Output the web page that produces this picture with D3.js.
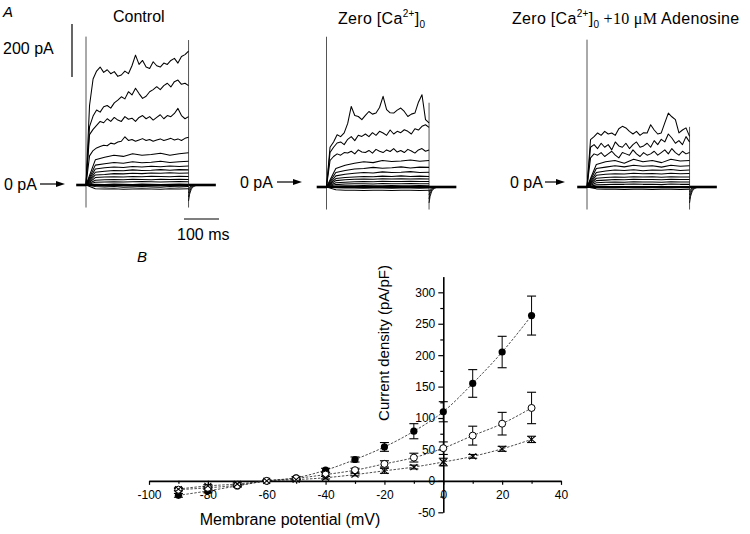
<!DOCTYPE html>
<html><head><meta charset="utf-8">
<script src="https://cdn.jsdelivr.net/npm/d3@7"></script>
<style>body{margin:0;background:#fff} svg{display:block} text{font-family:"Liberation Sans",Arial,sans-serif;fill:#000}</style>
</head><body><svg id="c" width="750" height="534"></svg>
<script>
// ---------------- Panel B data (I-V relation) ----------------
const voltages = [-90,-80,-70,-60,-50,-40,-30,-20,-10,0,10,20,30];
const controlDensity = [-23,-16,-8,0,5,17,34,54,79,110,155,205,263];
const controlErr     = [3,3,2,1,2,3,4,7,12,16,22,25,31];
const zeroCaDensity  = [-14,-11,-7,0,4,10,17,27,37,52,72,91,116];
const zeroCaErr      = [2,2,2,1,2,3,3,5,7,10,15,18,25];
const adenoDensity   = [-13,-8,-5,0,2,5,10,16,22,30,39,51,66];
const adenoErr       = [2,2,2,1,1,2,2,4,3,6,3,4,5];
const xTicksMajor = [-100,-80,-60,-40,-20,0,20,40];
const xTicksMinor = [-90,-70,-50,-30,-10,10,30];
const yTicksMajor = [-50,0,50,100,150,200,250,300];
const yTicksMinor = [-25,25,75,125,175,225,275];

// ---------------- Panel A data (current traces, pA) ----------------
const stepMs = 293;          // duration of voltage step
const preMs = 28, postMs = 78;
const tailTimes = [0,3,8,15,25];   // ms after step end
const tailValues = [[-60,-35,-15,-5,0],[-45,-25,-10,-3,0],[-30,-16,-6,-2,0],[-18,-9,-3,0,0]];
const scaleBarPA = 200, scaleBarMs = 100;

const controlTraces = [
 [0,300,400,430,445,425,435,420,428,410,415,430,420,450,490,455,470,445,440,465,450,445,460,455,470,478,460,485,492,505],
 [0,220,260,283,275,295,300,290,310,320,333,325,352,340,365,345,327,335,352,360,371,360,375,384,370,390,396,380,384,375],
 [0,190,210,225,240,235,250,240,255,245,240,258,248,252,240,255,262,250,258,245,255,265,250,262,258,270,289,262,250,258],
 [0,110,130,140,145,150,148,158,155,162,165,182,168,172,165,170,175,168,172,165,170,174,168,172,176,170,174,168,176,180],
 [0,95,105,112,108,118,112,115,120,112,118,122],
 [0,75,80,85,82,88,84,86,90,85,88,90],
 [0,60,65,68,66,70,68,71,69,72,70,72],
 [0,48,52,55,54,57,55,56,58,56,58,57],
 [0,38,40,43,42,44,43,45,44,46,44,45],
 [0,28,30,31,30,32,31,33,32,31,33,32],
 [0,18,20,21,20,22,21,20,22,21,22,21],
 [0,10,11,12,11,12,13,12,11,12,13,12],
 [0,3,2,4,3,2,4,3,2,3,4,3],
 [0,-6,-7,-6,-8,-7,-6,-7,-8,-6,-7,-6],
 [0,-14,-15,-14,-16,-15,-14,-15,-16,-14,-15,-14]
];
const zeroCaTraces = [
 [0,150,170,197,190,204,240,304,270,266,254,270,285,275,279,300,342,292,280,279,290,298,285,266,275,279,320,348,254,242],
 [0,130,150,166,170,160,180,190,175,195,191,200,190,205,195,210,204,195,215,200,210,205,216,210,200,220,215,229,235,225],
 [0,100,115,125,120,130,128,135,125,140,132,130,138,128,142,135,130,140,134,145,132,138,130,142,136,128,140,145,135,140],
 [0,70,82,90,95,92,100,96,98,102,97,100],
 [0,55,62,68,70,74,71,73,76,72,75,74],
 [0,42,48,52,55,53,57,55,56,58,55,56],
 [0,32,36,38,40,39,41,40,42,40,41,40],
 [0,24,27,29,30,29,31,30,31,30,31,30],
 [0,16,18,20,21,20,22,21,21,22,21,21],
 [0,9,11,12,12,11,13,12,12,13,12,12],
 [0,4,5,5,6,5,5,6,5,5,6,5],
 [0,-3,-4,-4,-5,-4,-4,-5,-4,-4,-5,-4],
 [0,-10,-12,-12,-13,-12,-12,-13,-12,-12,-13,-12]
];
const adenoTraces = [
 [0,179,190,204,195,210,200,204,195,220,229,223,210,200,210,195,205,204,235,215,200,204,242,279,265,254,204,215,223,191],
 [0,150,160,145,165,150,160,140,170,155,150,165,145,160,170,150,155,165,150,175,160,180,170,200,185,165,175,160,190,170],
 [0,110,125,120,130,115,125,135,120,110,130,125,120,140,125,115,130,120,125,135,120,130,140,125,145,130,120,135,125,130],
 [0,85,95,100,90,105,95,100,92,105,98,100],
 [0,70,75,80,76,82,78,80,75,82,78,80],
 [0,55,60,64,62,65,61,64,63,66,62,64],
 [0,44,48,50,49,52,50,51,49,52,50,51],
 [0,33,36,38,37,39,38,39,37,39,38,38],
 [0,24,26,28,27,29,28,28,27,29,28,28],
 [0,16,18,19,18,20,19,19,18,20,19,19],
 [0,8,9,10,10,11,10,10,9,11,10,10],
 [0,1,0,1,-1,0,1,0,-1,0,1,0],
 [0,-7,-8,-8,-9,-8,-8,-9,-8,-8,-9,-8]
];
// capacitive transients (pA) at step onset / offset
const capStart = [560,567,556];
const capEnd   = [547,318,227];
const capBottom = -85;

const svg = d3.select("#c");
const FONT = '"Liberation Sans",Arial,sans-serif';

// ---------------- Panel A ----------------
const msToPx = d3.scaleLinear().domain([0, 100]).range([0, 35]);
const paToPx = d3.scaleLinear().domain([0, 200]).range([0, 53]);

const panels = [
  {x0: 86, base: 185, traces: controlTraces},
  {x0: 326.5, base: 187, traces: zeroCaTraces},
  {x0: 587, base: 187, traces: adenoTraces}
];

panels.forEach((p, pi) => {
  const x = d3.scaleLinear().domain([0, stepMs]).range([p.x0, p.x0 + msToPx(stepMs)]);
  const y = d3.scaleLinear().domain([0, 200]).range([p.base, p.base - paToPx(200)]);
  const g = svg.append("g");
  g.append("line").attr("x1", x(0)).attr("x2", x(0)).attr("y1", y(capStart[pi])).attr("y2", y(capBottom))
    .attr("stroke", "#555").attr("stroke-width", 1);
  g.append("line").attr("x1", x(stepMs)).attr("x2", x(stepMs)).attr("y1", y(capEnd[pi])).attr("y2", y(capBottom))
    .attr("stroke", "#555").attr("stroke-width", 1);
  g.append("line").attr("x1", x(-preMs)).attr("x2", x(0)).attr("y1", y(0)).attr("y2", y(0))
    .attr("stroke", "#000").attr("stroke-width", 2.6);
  g.append("line").attr("x1", x(stepMs)).attr("x2", x(stepMs + postMs)).attr("y1", y(0)).attr("y2", y(0))
    .attr("stroke", "#000").attr("stroke-width", 2.6);
  const tailLine = d3.line().x((d, i) => x(stepMs + tailTimes[i])).y(d => y(d));
  tailValues.forEach(tv => {
    g.append("path").attr("d", tailLine(tv)).attr("fill", "none").attr("stroke", "#000").attr("stroke-width", 0.9);
  });
  p.traces.forEach(tr => {
    const n = tr.length;
    const line = d3.line().x((d, i) => x(i / (n - 1) * stepMs)).y(d => y(d));
    g.append("path").attr("d", line(tr)).attr("fill", "none").attr("stroke", "#000")
      .attr("stroke-width", 1.05).attr("stroke-linejoin", "round");
  });
  g.append("line").attr("x1", x(0)).attr("x2", x(stepMs)).attr("y1", y(0)).attr("y2", y(0))
    .attr("stroke", "#000").attr("stroke-width", 2.2);
});

// scale bars
svg.append("line").attr("x1", 72).attr("x2", 72).attr("y1", 24).attr("y2", 24 + paToPx(scaleBarPA))
  .attr("stroke", "#000").attr("stroke-width", 1.2);
svg.append("line").attr("x1", 184).attr("x2", 184 + msToPx(scaleBarMs)).attr("y1", 219).attr("y2", 219)
  .attr("stroke", "#000").attr("stroke-width", 1.2);
svg.append("text").attr("x", 3).attr("y", 53.5).attr("font-size", 16).text("200 pA");
svg.append("text").attr("x", 177).attr("y", 240).attr("font-size", 16).text("100 ms");

// 0 pA labels with arrows
const zeroLabels = [{tx: 4, y: 189.5, ax1: 40, ax2: 65}, {tx: 240, y: 187.5, ax1: 277, ax2: 302}, {tx: 510, y: 187.5, ax1: 545, ax2: 565}];
zeroLabels.forEach(z => {
  svg.append("text").attr("x", z.tx).attr("y", z.y).attr("font-size", 16).text("0 pA");
  const ay = z.y - 5.5;
  svg.append("line").attr("x1", z.ax1).attr("x2", z.ax2 - 6).attr("y1", ay).attr("y2", ay).attr("stroke", "#000").attr("stroke-width", 1.2);
  svg.append("path").attr("d", `M${z.ax2},${ay}L${z.ax2 - 9},${ay - 3}L${z.ax2 - 9},${ay + 3}Z`).attr("fill", "#000");
});

// titles
svg.append("text").attr("x", 3).attr("y", 17).attr("font-size", 15).attr("font-style", "italic").text("A");
svg.append("text").attr("x", 137).attr("y", 262).attr("font-size", 15).attr("font-style", "italic").text("B");
svg.append("text").attr("x", 113).attr("y", 22).attr("font-size", 16).text("Control");

function caTitle(x, y, extra) {
  const t = svg.append("text").attr("x", x).attr("y", y).attr("font-size", 16).attr("letter-spacing", 0.3);
  t.append("tspan").text("Zero [Ca");
  t.append("tspan").attr("font-size", 10).attr("dy", -7).text("2+");
  t.append("tspan").attr("dy", 7).text("]");
  t.append("tspan").attr("font-size", 10).attr("dy", 4).text("0");
  if (extra) {
    t.append("tspan").attr("dy", -4).attr("font-family", '"Liberation Serif","Times New Roman",serif').text(" +10 \u03bcM");
    t.append("tspan").text(" Adenosine");
  }
}
caTitle(338, 24, false);
caTitle(512, 24, true);

// ---------------- Panel B ----------------
const xB = d3.scaleLinear().domain([-100, 40]).range([149, 561]);
const yB = d3.scaleLinear().domain([-50, 325]).range([512.3, 276.6]);

svg.append("g").attr("transform", `translate(0,${yB(0)})`)
  .call(d3.axisBottom(xB).tickValues(xTicksMajor).tickSizeInner(4).tickSizeOuter(0).tickPadding(6).tickFormat(d => String(d)));
svg.append("g").attr("transform", `translate(0,${yB(0)})`)
  .call(d3.axisBottom(xB).tickValues(xTicksMinor).tickSizeInner(3).tickSizeOuter(0).tickFormat(""))
  .select(".domain").remove();
svg.append("g").attr("transform", `translate(${xB(0)},0)`)
  .call(d3.axisLeft(yB).tickValues(yTicksMajor).tickSizeInner(5).tickSizeOuter(0).tickPadding(3).tickFormat(d => String(d)));
svg.append("g").attr("transform", `translate(${xB(0)},0)`)
  .call(d3.axisLeft(yB).tickValues(yTicksMinor).tickSizeInner(3).tickSizeOuter(0).tickFormat(""))
  .select(".domain").remove();
svg.selectAll(".tick text").attr("font-size", 12).attr("font-family", FONT).attr("fill", "#000");
svg.selectAll(".domain").attr("stroke", "#000").attr("stroke-width", 1.6);
svg.selectAll(".tick line").attr("stroke", "#000").attr("stroke-width", 1.2);

svg.append("text").attr("x", 290).attr("y", 525).attr("font-size", 16).attr("text-anchor", "middle").text("Membrane potential (mV)");
svg.append("text").attr("transform", "translate(389,343) rotate(-90)").attr("font-size", 15)
  .attr("text-anchor", "middle").text("Current density (pA/pF)");

const series = [
  {vals: controlDensity, err: controlErr, type: "filled"},
  {vals: zeroCaDensity, err: zeroCaErr, type: "open"},
  {vals: adenoDensity, err: adenoErr, type: "cross"}
];
const ivLine = d3.line().x((d, i) => xB(voltages[i])).y(d => yB(d)).curve(d3.curveMonotoneX);
series.forEach(s => {
  svg.append("path").attr("d", ivLine(s.vals)).attr("fill", "none").attr("stroke", "#222")
    .attr("stroke-width", 0.8).attr("stroke-dasharray", "2.5,1.5");
});
series.forEach(s => {
  const g = svg.append("g");
  s.vals.forEach((v, i) => {
    const cx = xB(voltages[i]);
    const lo = yB(v - s.err[i]), hi = yB(v + s.err[i]);
    g.append("line").attr("x1", cx).attr("x2", cx).attr("y1", lo).attr("y2", hi).attr("stroke", "#000").attr("stroke-width", 1);
    [lo, hi].forEach(yy => g.append("line").attr("x1", cx - 4.5).attr("x2", cx + 4.5).attr("y1", yy).attr("y2", yy)
      .attr("stroke", "#000").attr("stroke-width", 1.1));
  });
});
series.forEach(s => {
  const g = svg.append("g");
  s.vals.forEach((v, i) => {
    const cx = xB(voltages[i]), cy = yB(v);
    if (s.type === "filled") {
      g.append("circle").attr("cx", cx).attr("cy", cy).attr("r", 3.6).attr("fill", "#000");
    } else if (s.type === "open") {
      g.append("circle").attr("cx", cx).attr("cy", cy).attr("r", 3.5).attr("fill", "#fff").attr("stroke", "#000").attr("stroke-width", 1);
    } else {
      g.append("path").attr("d", `M${cx - 3.5},${cy - 3}L${cx + 3.5},${cy + 3}M${cx - 3.5},${cy + 3}L${cx + 3.5},${cy - 3}`)
        .attr("stroke", "#000").attr("stroke-width", 1.1);
    }
  });
});
</script></body></html>
